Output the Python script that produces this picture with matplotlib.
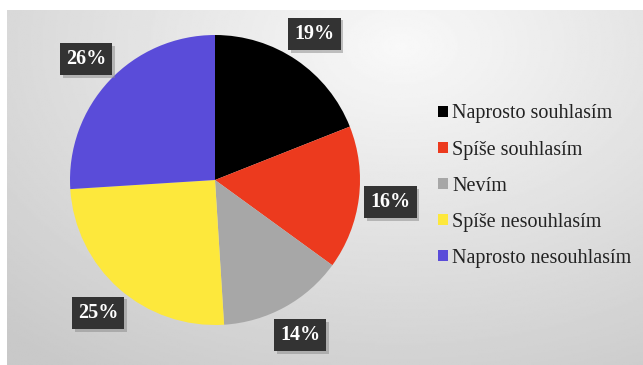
import numpy as np
import matplotlib
matplotlib.use('Agg')
import matplotlib.pyplot as plt
import matplotlib.patheffects as pe
from matplotlib.patches import Patch

labels = ['Naprosto souhlasím', 'Spíše souhlasím', 'Nevím',
          'Spíše nesouhlasím', 'Naprosto nesouhlasím']
shares = [19, 16, 14, 25, 26]
colors = ['#000000', '#ec3a1e', '#a7a7a7', '#fde83c', '#5a4cd9']

plt.rcParams['font.family'] = ['Liberation Serif', 'DejaVu Serif']

fig = plt.figure(figsize=(6.43, 3.65), dpi=100)
fig.patch.set_facecolor('white')

# soft grey backdrop, lighter toward the upper right
bg = fig.add_axes([7 / 643, 0, 636 / 643, 355 / 365])
yy, xx = np.mgrid[0:1:200j, 0:1:360j]
d = np.sqrt(((xx - 0.62) * 1.2) ** 2 + ((yy - 0.1) * 1.0) ** 2)
shade = 0.975 - 0.17 * np.clip(d, 0, 1.1)
bg.imshow(shade, cmap='gray', vmin=0, vmax=1, aspect='auto',
          extent=[0, 1, 0, 1], origin='upper')
bg.set_axis_off()

ax = fig.add_axes([70 / 643, 40 / 365, 290 / 643, 290 / 365])
wedges, texts, autotexts = ax.pie(
    shares, colors=colors, startangle=90, counterclock=False,
    autopct='%d%%', pctdistance=1.22, radius=1,
    textprops=dict(color='white', fontsize=14.5, fontweight='bold'))
ax.set_xlim(-1, 1)
ax.set_ylim(-1, 1)
ax.set_aspect('auto')

for t in autotexts:
    t.set_bbox(dict(boxstyle='square,pad=0.3', facecolor='#333333',
                    edgecolor='none'))
    t.get_bbox_patch().set_path_effects(
        [pe.SimplePatchShadow(offset=(2, -2), shadow_rgbFace='#888888', alpha=0.5),
         pe.Normal()])

handles = [Patch(facecolor=c, edgecolor='none') for c in colors]
fig.legend(handles, labels, loc='center left', bbox_to_anchor=(420 / 643, 0.49),
           frameon=False, fontsize=14.5, handlelength=0.5, handleheight=0.5,
           handletextpad=0.2, labelspacing=0.85, labelcolor='#222222')

fig.savefig('out.png', dpi=100)
